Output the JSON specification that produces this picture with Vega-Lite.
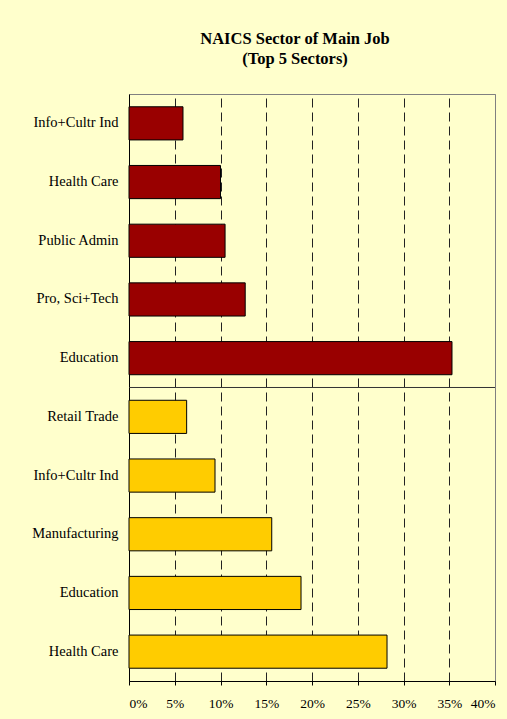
{
  "$schema": "https://vega.github.io/schema/vega-lite/v6.json",
  "width": 366,
  "height": 587,
  "autosize": "none",
  "padding": {"left": 129, "top": 94, "right": 12, "bottom": 38},
  "background": "#FFFFCC",
  "title": {
    "text": ["NAICS Sector of Main Job", "(Top 5 Sectors)"],
    "font": "Liberation Serif",
    "fontSize": 16.5,
    "fontWeight": "bold",
    "color": "#000000",
    "lineHeight": 20,
    "anchor": "middle",
    "dx": -17,
    "offset": 27
  },
  "config": {
    "view": {"stroke": "#808080", "strokeWidth": 1, "fill": "#FFFFCC"},
    "axis": {"labelFont": "Liberation Serif", "labelColor": "#000000"}
  },
  "data": {
    "values": [
      {"k": "1|Info+Cultr Ind", "group": "A", "pct": 5.9},
      {"k": "2|Health Care", "group": "A", "pct": 10.0},
      {"k": "3|Public Admin", "group": "A", "pct": 10.5},
      {"k": "4|Pro, Sci+Tech", "group": "A", "pct": 12.7},
      {"k": "5|Education", "group": "A", "pct": 35.3},
      {"k": "6|Retail Trade", "group": "B", "pct": 6.3},
      {"k": "7|Info+Cultr Ind", "group": "B", "pct": 9.4},
      {"k": "8|Manufacturing", "group": "B", "pct": 15.6},
      {"k": "9|Education", "group": "B", "pct": 18.8},
      {"k": "10|Health Care", "group": "B", "pct": 28.2}
    ]
  },
  "encoding": {
    "y": {
      "field": "k",
      "type": "nominal",
      "sort": null,
      "scale": {"paddingInner": 0.435, "paddingOuter": 0.2175},
      "axis": {
        "title": null,
        "labelExpr": "split(datum.label, '|')[1]",
        "labelFontSize": 14.5,
        "labelPadding": 11,
        "ticks": false,
        "domainColor": "#000000",
        "domainWidth": 1,
        "grid": false
      }
    }
  },
  "layer": [
    {
      "mark": {"type": "bar", "stroke": "#000000", "strokeWidth": 1},
      "encoding": {
        "x": {
          "field": "pct",
          "type": "quantitative",
          "scale": {"domain": [0, 40], "nice": false},
          "axis": {
            "title": null,
            "values": [0, 5, 10, 15, 20, 25, 30, 35, 40],
            "labelExpr": "datum.value + '%'",
            "labelFontSize": 13.5,
            "labelPadding": 11,
            "tickSize": 4,
            "tickColor": "#000000",
            "domainColor": "#000000",
            "grid": true,
            "gridColor": {"condition": {"test": "datum.value >= 40", "value": "#808080"}, "value": "#222222"},
            "gridDash": {"condition": {"test": "datum.value >= 40", "value": []}, "value": [9, 5]},
            "gridWidth": 1
          }
        },
        "color": {
          "field": "group",
          "type": "nominal",
          "scale": {"domain": ["A", "B"], "range": ["#990000", "#FFCC00"]},
          "legend": null
        }
      }
    },
    {
      "data": {"values": [{"k": "6|Retail Trade"}]},
      "mark": {"type": "rule", "color": "#333333", "strokeWidth": 1},
      "encoding": {
        "y": {"field": "k", "type": "nominal", "sort": null, "bandPosition": -0.385}
      }
    }
  ]
}
